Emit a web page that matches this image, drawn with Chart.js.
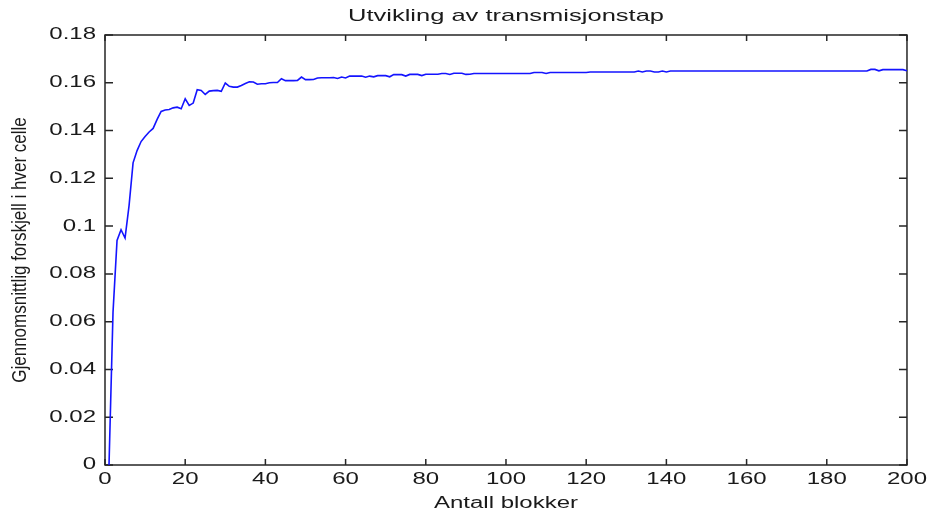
<!DOCTYPE html>
<html lang="no">
<head>
<meta charset="utf-8">
<title>Utvikling av transmisjonstap</title>
<script src="https://cdn.jsdelivr.net/npm/chart.js@4.4.1/dist/chart.umd.min.js"></script>
<style>
  html, body { margin: 0; padding: 0; background: #ffffff; }
  #wrap { position: relative; width: 932px; height: 517px; }
</style>
</head>
<body>
<div id="wrap"><canvas id="chart"></canvas></div>
<script>
// Block numbers along the x axis
const blocks = Array.from({ length: 200 }, (_, i) => i + 1);

// Mean difference per cell after each block
const meanDifference = [
  0.0000, 0.0640, 0.0940, 0.0985, 0.0950, 0.1086, 0.1265, 0.1316, 0.1354, 0.1375,
  0.1394, 0.1409, 0.1447, 0.1480, 0.1486, 0.1488, 0.1495, 0.1498, 0.1491, 0.1533,
  0.1505, 0.1515, 0.1571, 0.1568, 0.1551, 0.1565, 0.1567, 0.1568, 0.1564, 0.1599,
  0.1585, 0.1582, 0.1582, 0.1589, 0.1597, 0.1604, 0.1603, 0.1594, 0.1596, 0.1596,
  0.1600, 0.1601, 0.1601, 0.1617, 0.1609, 0.1609, 0.1609, 0.1610, 0.1624, 0.1613,
  0.1613, 0.1614, 0.1620, 0.1621, 0.1621, 0.1621, 0.1622, 0.1618, 0.1624, 0.1620,
  0.1628, 0.1628, 0.1628, 0.1628, 0.1623, 0.1628, 0.1625, 0.1630, 0.1630, 0.1630,
  0.1625, 0.1634, 0.1634, 0.1634, 0.1628, 0.1635, 0.1635, 0.1635, 0.1630, 0.1636,
  0.1636, 0.1636, 0.1636, 0.1639, 0.1639, 0.1635, 0.1640, 0.1640, 0.1640, 0.1635,
  0.1636, 0.1639, 0.1639, 0.1639, 0.1639, 0.1639, 0.1639, 0.1639, 0.1639, 0.1639,
  0.1639, 0.1639, 0.1639, 0.1639, 0.1639, 0.1639, 0.1643, 0.1643, 0.1643, 0.1639,
  0.1643, 0.1643, 0.1643, 0.1643, 0.1643, 0.1643, 0.1643, 0.1643, 0.1643, 0.1643,
  0.1645, 0.1645, 0.1645, 0.1645, 0.1645, 0.1645, 0.1645, 0.1645, 0.1645, 0.1645,
  0.1645, 0.1645, 0.1649, 0.1645, 0.1649, 0.1649, 0.1645, 0.1645, 0.1649, 0.1645,
  0.1649, 0.1649, 0.1649, 0.1649, 0.1649, 0.1649, 0.1649, 0.1649, 0.1649, 0.1649,
  0.1649, 0.1649, 0.1649, 0.1649, 0.1649, 0.1649, 0.1649, 0.1649, 0.1649, 0.1649,
  0.1649, 0.1649, 0.1649, 0.1649, 0.1649, 0.1649, 0.1649, 0.1649, 0.1649, 0.1649,
  0.1649, 0.1649, 0.1649, 0.1649, 0.1649, 0.1649, 0.1649, 0.1649, 0.1649, 0.1649,
  0.1649, 0.1649, 0.1649, 0.1649, 0.1649, 0.1649, 0.1649, 0.1649, 0.1649, 0.1649,
  0.1656, 0.1656, 0.1650, 0.1655, 0.1655, 0.1655, 0.1655, 0.1655, 0.1655, 0.1650
];

// Axis ticks and their labels
const xTicks = [0, 20, 40, 60, 80, 100, 120, 140, 160, 180, 200];
const xTickLabels = ['0', '20', '40', '60', '80', '100', '120', '140', '160', '180', '200'];
const yTicks = [0, 0.02, 0.04, 0.06, 0.08, 0.1, 0.12, 0.14, 0.16, 0.18];
const yTickLabels = ['0', '0.02', '0.04', '0.06', '0.08', '0.1', '0.12', '0.14', '0.16', '0.18'];

// Texts
const chartTitle = 'Utvikling av transmisjonstap';
const xTitle = 'Antall blokker';
const yTitle = 'Gjennomsnittlig forskjell i hver celle';

// Wide lettering: text is drawn stretched along the screen x direction
const TEXT_STRETCH = 1.5;     // horizontal labels
const ROTATED_STRETCH = 1.2;  // the rotated y-axis title

function widenText(ctx) {
  const fill = ctx.fillText.bind(ctx);
  const measure = ctx.measureText.bind(ctx);
  const rotated = () => Math.abs(ctx.getTransform().b) > 1e-3;
  ctx.fillText = function (text, x, y, maxWidth) {
    const t = ctx.getTransform();
    const isRot = Math.abs(t.b) > 1e-3;
    const k = isRot ? ROTATED_STRETCH : TEXT_STRETCH;
    const p = t.transformPoint(new DOMPoint(x, y));
    ctx.save();
    ctx.setTransform(new DOMMatrix().translate(p.x, p.y).scale(k, 1).translate(-p.x, -p.y).multiply(t));
    if (maxWidth === undefined || maxWidth === null) fill(text, x, y);
    else fill(text, x, y, isRot ? maxWidth : maxWidth / k);
    ctx.restore();
  };
  ctx.measureText = function (text) {
    const m = measure(text);
    if (rotated()) return m;
    return {
      width: m.width * TEXT_STRETCH,
      actualBoundingBoxAscent: m.actualBoundingBoxAscent,
      actualBoundingBoxDescent: m.actualBoundingBoxDescent,
      actualBoundingBoxLeft: m.actualBoundingBoxLeft * TEXT_STRETCH,
      actualBoundingBoxRight: m.actualBoundingBoxRight * TEXT_STRETCH
    };
  };
}

// Axes box with inward tick marks on all four sides
const axesBox = {
  id: 'axesBox',
  beforeDatasetsDraw(chart) {
    const { ctx, chartArea: { left, right, top, bottom }, scales: { x, y } } = chart;
    ctx.save();
    ctx.strokeStyle = '#262626';
    ctx.lineWidth = 1.5;
    ctx.strokeRect(left, top, right - left, bottom - top);
    ctx.beginPath();
    for (const v of xTicks) {
      const px = x.getPixelForValue(v);
      ctx.moveTo(px, bottom); ctx.lineTo(px, bottom - 6);
      ctx.moveTo(px, top); ctx.lineTo(px, top + 6);
    }
    for (const v of yTicks) {
      const py = y.getPixelForValue(v);
      ctx.moveTo(left, py); ctx.lineTo(left + 8, py);
      ctx.moveTo(right, py); ctx.lineTo(right - 8, py);
    }
    ctx.stroke();
    ctx.restore();
  }
};

const canvas = document.getElementById('chart');
const ctx = canvas.getContext('2d');
widenText(ctx);

const FONT = '"Liberation Sans", Arial, sans-serif';
const INK = '#1a1a1a';

new Chart(ctx, {
  type: 'line',
  data: {
    datasets: [{
      data: blocks.map((b, i) => ({ x: b, y: meanDifference[i] })),
      borderColor: '#1414ff',
      borderWidth: 1.6,
      pointRadius: 0,
      tension: 0,
      fill: false
    }]
  },
  options: {
    responsive: true,
    maintainAspectRatio: false,
    animation: false,
    devicePixelRatio: 1,
    layout: { padding: { left: 0, right: 24, top: 0, bottom: 0 } },
    plugins: {
      legend: { display: false },
      tooltip: { enabled: false },
      title: {
        display: true,
        text: chartTitle,
        fullSize: false,
        color: INK,
        font: { family: FONT, size: 17, weight: 'normal', lineHeight: 1.2 },
        padding: { top: 6, bottom: 8.6 }
      }
    },
    scales: {
      x: {
        type: 'linear',
        min: 0,
        max: 200,
        grid: { display: false, drawTicks: false },
        border: { display: false },
        afterBuildTicks: s => { s.ticks = xTicks.map(v => ({ value: v })); },
        afterFit: s => { s.height = 52; },
        ticks: {
          autoSkip: false,
          maxRotation: 0,
          padding: 5,
          color: INK,
          font: { family: FONT, size: 16, lineHeight: 1.2 },
          callback: (v, i) => xTickLabels[i]
        },
        title: {
          display: true,
          text: xTitle,
          color: INK,
          font: { family: FONT, size: 16, lineHeight: 1.2 },
          padding: { top: 0, bottom: 4 }
        }
      },
      y: {
        type: 'linear',
        min: 0,
        max: 0.18,
        grid: { display: false, drawTicks: false },
        border: { display: false },
        afterBuildTicks: s => { s.ticks = yTicks.map(v => ({ value: v })); },
        afterFit: s => { s.width = 105; },
        ticks: {
          autoSkip: false,
          padding: 9,
          color: INK,
          font: { family: FONT, size: 16, lineHeight: 1.2 },
          callback: (v, i) => yTickLabels[i]
        },
        title: {
          display: true,
          text: yTitle,
          color: INK,
          font: { family: FONT, size: 17, lineHeight: 1.2 },
          padding: { top: 10, bottom: 0 }
        }
      }
    }
  },
  plugins: [axesBox]
});
</script>
</body>
</html>
